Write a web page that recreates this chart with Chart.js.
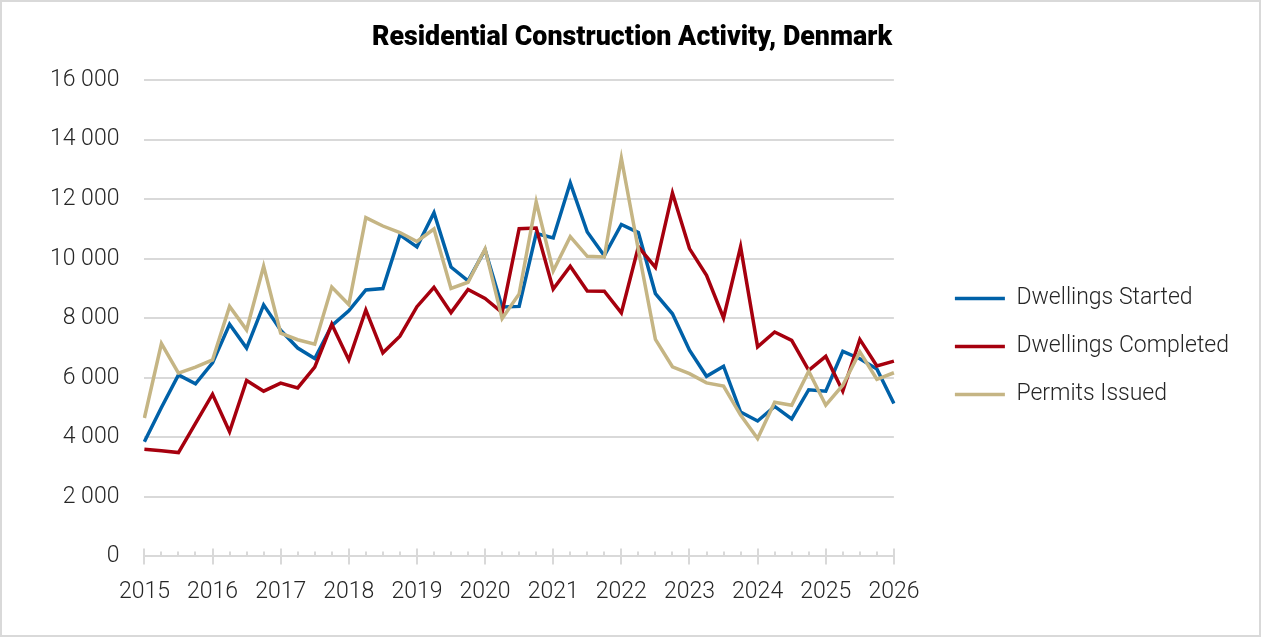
<!DOCTYPE html>
<html>
<head>
<meta charset="utf-8">
<script src="https://cdn.jsdelivr.net/npm/chart.js@4.4.1/dist/chart.umd.min.js"></script>
<style>
  body { margin: 0; background: #fff; }
  #wrap { position: relative; width: 1261px; height: 637px; }
  #frame { position: absolute; left: 0; top: 0; width: 1261px; height: 637px; box-sizing: border-box; border: 2px solid #d9d9d9; pointer-events: none; }
</style>
</head>
<body>
<div id="wrap">
  <canvas id="chart" width="1261" height="637"></canvas>
  <div id="frame"></div>
</div>
<script>
// quarterly categories, 2015 Q1 .. 2026 Q1
const quarters = [
  '2015Q1','2015Q2','2015Q3','2015Q4','2016Q1','2016Q2','2016Q3','2016Q4',
  '2017Q1','2017Q2','2017Q3','2017Q4','2018Q1','2018Q2','2018Q3','2018Q4',
  '2019Q1','2019Q2','2019Q3','2019Q4','2020Q1','2020Q2','2020Q3','2020Q4',
  '2021Q1','2021Q2','2021Q3','2021Q4','2022Q1','2022Q2','2022Q3','2022Q4',
  '2023Q1','2023Q2','2023Q3','2023Q4','2024Q1','2024Q2','2024Q3','2024Q4',
  '2025Q1','2025Q2','2025Q3','2025Q4','2026Q1'
];
const yearTicks = ['2015','2016','2017','2018','2019','2020','2021','2022','2023','2024','2025','2026'];

const started = [3850, 5000, 6100, 5800, 6500, 7800, 7000, 8450, 7600, 7000, 6650, 7750,
  8250, 8950, 9000, 10800, 10400, 11550, 9720, 9260, 10300, 8380, 8400, 10850,
  10700, 12550, 10900, 10100, 11150, 10880, 8830, 8150, 6930, 6050, 6390, 4850,
  4550, 5040, 4620, 5600, 5550, 6890, 6640, 6300, 5140];
const completed = [3600, 3550, 3490, 4470, 5450, 4190, 5910, 5550, 5820, 5660, 6360, 7800,
  6600, 8280, 6840, 7400, 8390, 9040, 8190, 8970, 8670, 8190, 11010, 11030,
  8980, 9750, 8920, 8910, 8180, 10400, 9710, 12210, 10340, 9440, 8010, 10400,
  7040, 7540, 7260, 6250, 6720, 5550, 7290, 6400, 6560];
const permits = [4650, 7150, 6160, 6360, 6600, 8400, 7610, 9750, 7500, 7280, 7130, 9050,
  8460, 11380, 11100, 10880, 10580, 11000, 9000, 9210, 10330, 7990, 8820, 11910,
  9590, 10740, 10080, 10060, 13380, 10300, 7290, 6370, 6140, 5830, 5720, 4750,
  3960, 5180, 5080, 6220, 5080, 5750, 6870, 5950, 6170];

const GRID = '#d9d9d9';
const TEXT = '#262626';
const FONT = { family: 'Roboto', size: 23, weight: '300' };

// --- X AXIS TICK MARKS (major crossing, minor inside) ---
const tickMarks = {
  id: 'tickMarks',
  beforeDatasetsDraw(chart) {
    const x = chart.scales.x, ctx = chart.ctx;
    const base = chart.chartArea.bottom;
    ctx.save();
    ctx.strokeStyle = GRID;
    ctx.lineWidth = 2;
    quarters.forEach((q, i) => {
      const px = Math.round(x.getPixelForValue(i));
      const major = i % 4 === 0;
      ctx.beginPath();
      ctx.moveTo(px, major ? base - 8 : base - 5);
      ctx.lineTo(px, major ? base + 8 : base);
      ctx.stroke();
    });
    ctx.restore();
  }
};

new Chart(document.getElementById('chart'), {
  type: 'line',
  data: {
    labels: quarters,
    datasets: [
      { label: 'Dwellings Started', data: started, borderColor: '#0061a8', backgroundColor: '#0061a8', borderWidth: 3.5, order: 3 },
      { label: 'Dwellings Completed', data: completed, borderColor: '#a6000e', backgroundColor: '#a6000e', borderWidth: 3.5, order: 2 },
      { label: 'Permits Issued', data: permits, borderColor: '#c5b584', backgroundColor: '#c5b584', borderWidth: 3.5, order: 1 }
    ]
  },
  options: {
    responsive: false,
    animation: false,
    layout: { padding: { left: 25, right: 22, top: 0, bottom: 17 } },
    elements: {
      line: { tension: 0, borderJoinStyle: 'miter' },
      point: { radius: 0 }
    },
    plugins: {
      tooltip: { enabled: false },
      title: {
        display: true,
        text: 'Residential Construction Activity, Denmark',
        color: '#000',
        font: { family: 'Roboto', size: 26.8, weight: '900' },
        padding: { top: 22, bottom: 26 }
      },
      legend: {
        position: 'right',
        align: 'center',
        maxWidth: 330,
        title: { display: true, text: ' ', font: { size: 1 }, padding: { top: 72, bottom: 0 } },
        labels: {
          usePointStyle: true,
          pointStyle: 'line',
          pointStyleWidth: 50,
          padding: 25,
          color: TEXT,
          font: FONT,
          sort: (a, b) => a.datasetIndex - b.datasetIndex
        }
      }
    },
    scales: {
      x: {
        type: 'category',
        offset: false,
        grid: { display: false },
        border: { display: true, color: GRID, width: 2 },
        ticks: {
          autoSkip: false,
          maxRotation: 0,
          padding: 14,
          color: TEXT,
          font: FONT,
          callback: (v, i) => i % 4 === 0 ? yearTicks[i / 4] : ''
        }
      },
      y: {
        min: 0,
        max: 16000,
        grid: { color: GRID, lineWidth: 2, drawTicks: false },
        border: { display: false },
        ticks: {
          stepSize: 2000,
          padding: 25,
          color: TEXT,
          font: FONT,
          callback: v => String(v).replace(/\B(?=(\d{3})+(?!\d))/g, ' ')
        }
      },
      // empty spacer between plot and legend
      gap: {
        position: 'right',
        min: 0,
        max: 1,
        grid: { display: false },
        border: { display: false },
        ticks: { display: false },
        afterFit: s => { s.width = 36; }
      }
    }
  },
  plugins: [tickMarks]
});
</script>
</body>
</html>
